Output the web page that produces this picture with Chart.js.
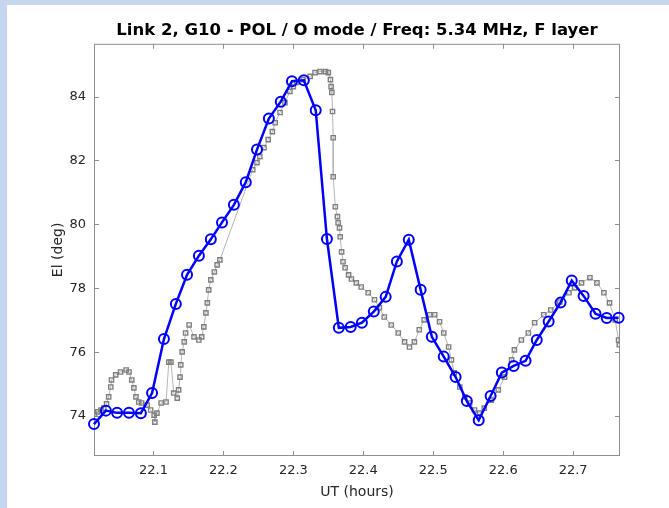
<!DOCTYPE html>
<html>
<head>
<meta charset="utf-8">
<title>Link 2, G10 - POL</title>
<script src="https://cdn.jsdelivr.net/npm/chart.js@4.4.1/dist/chart.umd.min.js"></script>
<style>
  html, body { margin: 0; padding: 0; background: #c6d6ee; }
  #wrap { position: relative; width: 669px; height: 508px; }
</style>
</head>
<body>
<div id="wrap"><canvas id="cEl" width="669" height="508"></canvas></div>
<script>
// ── Datos: serie de modelo (azul, 1 min) ──────────────────────────
const blueUT = [
  22.015, 22.032, 22.048, 22.065, 22.082, 22.098, 22.115, 22.132, 22.148, 22.165,
  22.182, 22.198, 22.215, 22.232, 22.248, 22.265, 22.282, 22.298, 22.315, 22.332,
  22.348, 22.365, 22.382, 22.398, 22.415, 22.432, 22.448, 22.465, 22.482, 22.498,
  22.515, 22.532, 22.548, 22.565, 22.582, 22.598, 22.615, 22.632, 22.648, 22.665,
  22.682, 22.698, 22.715, 22.732, 22.748, 22.765,
];
const blueEl = [
  73.75, 74.17, 74.10, 74.10, 74.09, 74.72, 76.41, 77.51, 78.42, 79.02,
  79.53, 80.06, 80.61, 81.32, 82.34, 83.31, 83.84, 84.48, 84.51, 83.57,
  79.54, 76.76, 76.79, 76.92, 77.27, 77.73, 78.84, 79.52, 77.95, 76.48,
  75.86, 75.22, 74.47, 73.87, 74.63, 75.36, 75.57, 75.73, 76.38, 76.96,
  77.55, 78.24, 77.76, 77.20, 77.07, 77.08,
];

// ── Datos: serie medida (gris) ────────────────────────────────────
const grayUT = [
  22.016, 22.020, 22.025, 22.029, 22.033, 22.036, 22.039, 22.040, 22.046, 22.053,
  22.061, 22.065, 22.069, 22.072, 22.075, 22.079, 22.083, 22.091, 22.096, 22.101,
  22.102, 22.105, 22.111, 22.118, 22.122, 22.125, 22.129, 22.134, 22.136, 22.138,
  22.139, 22.141, 22.144, 22.146, 22.151, 22.158, 22.165, 22.169, 22.172, 22.175,
  22.177, 22.179, 22.182, 22.187, 22.191, 22.195,
  22.242, 22.248, 22.252, 22.258, 22.264, 22.270, 22.274, 22.281, 22.288, 22.295,
  22.300, 22.305, 22.314, 22.324, 22.331, 22.338, 22.346, 22.350, 22.353, 22.354,
  22.355, 22.356, 22.357, 22.357, 22.360, 22.363, 22.364, 22.366, 22.367, 22.369,
  22.371, 22.374, 22.379, 22.383, 22.390, 22.397, 22.407, 22.416, 22.423, 22.430,
  22.440, 22.450, 22.459, 22.466, 22.473, 22.480, 22.487, 22.495, 22.502, 22.509,
  22.515, 22.522, 22.526, 22.530, 22.538, 22.545, 22.552, 22.559, 22.566, 22.573,
  22.583, 22.593, 22.602, 22.612, 22.616, 22.626, 22.636, 22.645, 22.658, 22.668,
  22.681, 22.694, 22.702, 22.712, 22.724, 22.734, 22.744, 22.752, 22.760, 22.765,
  22.766,
];
const grayEl = [
  74.06, 74.13, 74.19, 74.25, 74.38, 74.60, 74.91, 75.13, 75.29, 75.38,
  75.44, 75.38, 75.13, 74.88, 74.60, 74.44, 74.41, 74.34, 74.19, 74.03,
  73.81, 74.09, 74.41, 74.44, 75.69, 75.69, 74.72, 74.56, 74.82, 75.22,
  75.60, 76.01, 76.32, 76.60, 76.85, 76.48, 76.38, 76.48, 76.79, 77.23,
  77.54, 77.95, 78.26, 78.51, 78.73, 78.89,
  81.71, 81.93, 82.12, 82.40, 82.65, 82.90, 83.18, 83.50, 83.81, 84.16,
  84.31, 84.44, 84.53, 84.63, 84.75, 84.78, 84.78, 84.75, 84.53, 84.31,
  84.13, 83.53, 82.71, 81.49, 80.55, 80.24, 80.05, 79.89, 79.61, 79.14,
  78.83, 78.64, 78.42, 78.29, 78.17, 78.04, 77.86, 77.64, 77.39, 77.10,
  76.85, 76.60, 76.32, 76.16, 76.32, 76.70, 77.01, 77.17, 77.17, 76.95,
  76.60, 76.16, 75.76, 75.35, 74.91, 74.60, 74.41, 74.19, 74.09, 74.25,
  74.50, 74.82, 75.22, 75.76, 76.07, 76.38, 76.60, 76.92, 77.17, 77.32,
  77.57, 77.86, 78.01, 78.17, 78.33, 78.17, 77.86, 77.54, 77.01, 76.38,
  76.23,
];

// ── Ejes ──────────────────────────────────────────────────────────
const xTicks = [22.1, 22.2, 22.3, 22.4, 22.5, 22.6, 22.7];
const xTickLabels = ['22.1', '22.2', '22.3', '22.4', '22.5', '22.6', '22.7'];
const yTicks = [74, 76, 78, 80, 82, 84];
const yTickLabels = ['74', '76', '78', '80', '82', '84'];
const xRange = [22.015, 22.767];
const yRange = [72.75, 85.65];

const pts = (xs, ys) => xs.map((v, i) => ({ x: v, y: ys[i] }));

// ── Fondo azul y panel blanco ─────────────────────────────────────
const fondo = {
  id: 'fondo',
  beforeDraw(chart) {
    const ctx = chart.ctx;
    ctx.save();
    ctx.fillStyle = '#c6d6ee';
    ctx.fillRect(0, 0, chart.width, chart.height);
    ctx.fillStyle = '#ffffff';
    ctx.fillRect(7, 5, chart.width - 7, chart.height - 5);
    ctx.restore();
  },
};

// ── Caja estilo matlab con ticks hacia adentro ────────────────────
const caja = {
  id: 'caja',
  beforeDatasetsDraw(chart) {
    const { ctx, chartArea: a, scales: { x, y } } = chart;
    const L = 5;
    ctx.save();
    ctx.strokeStyle = '#8f8f8f';
    ctx.lineWidth = 1;
    ctx.strokeRect(a.left + 0.5, a.top + 0.5, a.right - a.left - 1, a.bottom - a.top - 1);
    ctx.beginPath();
    x.ticks.forEach(t => {
      const px = Math.round(x.getPixelForValue(t.value)) + 0.5;
      ctx.moveTo(px, a.bottom); ctx.lineTo(px, a.bottom - L);
      ctx.moveTo(px, a.top);    ctx.lineTo(px, a.top + L);
    });
    y.ticks.forEach(t => {
      const py = Math.round(y.getPixelForValue(t.value)) + 0.5;
      ctx.moveTo(a.left, py);  ctx.lineTo(a.left + L, py);
      ctx.moveTo(a.right, py); ctx.lineTo(a.right - L, py);
    });
    ctx.stroke();
    ctx.restore();
  },
};

Chart.defaults.font.family = '"DejaVu Sans", sans-serif';
Chart.defaults.color = '#262626';

new Chart(document.getElementById('cEl'), {
  type: 'line',
  data: {
    datasets: [
      {
        data: pts(blueUT, blueEl),
        borderColor: '#0000ff', borderWidth: 2.5,
        pointStyle: 'circle', pointRadius: 5, pointBorderWidth: 2,
        pointBorderColor: '#0000ff', pointBackgroundColor: 'rgba(0,0,0,0)',
        tension: 0, order: 0, clip: false,
      },
      {
        data: pts(grayUT, grayEl),
        borderColor: '#b4b4b4', borderWidth: 1,
        pointStyle: 'rect', pointRadius: 3, pointBorderWidth: 1.4,
        pointBorderColor: '#7f7f7f', pointBackgroundColor: 'rgba(255,255,255,0)',
        tension: 0, order: 1,
      },
    ],
  },
  options: {
    responsive: false, animation: false, devicePixelRatio: 1,
    layout: { padding: { left: 0, right: 49, top: 0, bottom: 0 } },
    plugins: {
      legend: { display: false },
      tooltip: { enabled: false },
      title: {
        display: true,
        fullSize: false,
        text: 'Link 2, G10 - POL / O mode / Freq: 5.34 MHz, F layer',
        color: '#000000',
        font: { size: 16.5, weight: 'bold' },
        padding: { top: 21, bottom: 3 },
        align: 'center',
      },
    },
    scales: {
      x: {
        type: 'linear', min: xRange[0], max: xRange[1],
        grid: { display: false, drawTicks: false },
        border: { display: false },
        afterBuildTicks: s => { s.ticks = xTicks.map(v => ({ value: v })); },
        afterFit: s => { s.height = 52; },
        ticks: { padding: 7, font: { size: 13 }, maxRotation: 0, callback: (v, i) => xTickLabels[i] },
        title: { display: true, text: 'UT (hours)', font: { size: 14 }, padding: { top: 0, bottom: 7 } },
      },
      y: {
        type: 'linear', min: yRange[0], max: yRange[1],
        grid: { display: false, drawTicks: false },
        border: { display: false },
        afterBuildTicks: s => { s.ticks = yTicks.map(v => ({ value: v })); },
        afterFit: s => { s.width = 94; },
        ticks: { padding: 8, font: { size: 13 }, callback: (v, i) => yTickLabels[i] },
        title: { display: true, text: 'El (deg)', font: { size: 14 }, padding: { top: 50, bottom: 0 } },
      },
    },
  },
  plugins: [fondo, caja],
});
</script>
</body>
</html>
